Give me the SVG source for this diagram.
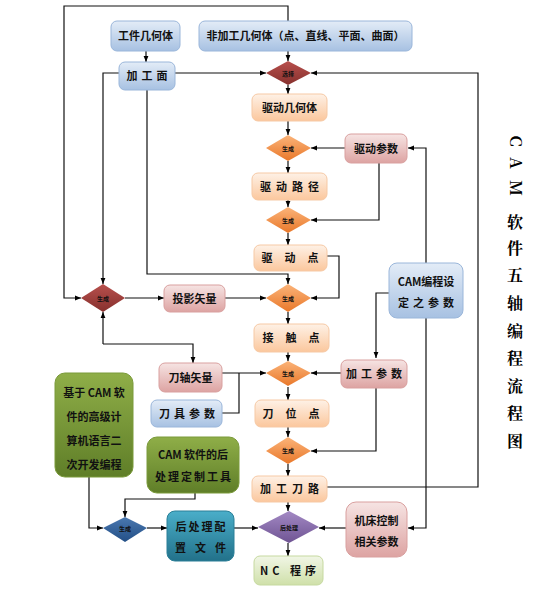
<svg xmlns="http://www.w3.org/2000/svg" width="556" height="592" viewBox="0 0 556 592">
<defs>
<linearGradient id="gBlue" x1="0" y1="0" x2="0" y2="1"><stop offset="0" stop-color="#e3ecf7"/><stop offset="1" stop-color="#a7c1e2"/></linearGradient>
<linearGradient id="gOrange" x1="0" y1="0" x2="0" y2="1"><stop offset="0" stop-color="#fef1e6"/><stop offset="1" stop-color="#fbc79d"/></linearGradient>
<linearGradient id="gPink" x1="0" y1="0" x2="0" y2="1"><stop offset="0" stop-color="#f6e4e3"/><stop offset="1" stop-color="#dda3a2"/></linearGradient>
<linearGradient id="gGreen" x1="0" y1="0" x2="0" y2="1"><stop offset="0" stop-color="#8fae48"/><stop offset="1" stop-color="#5f7e28"/></linearGradient>
<linearGradient id="gTeal" x1="0" y1="0" x2="0" y2="1"><stop offset="0" stop-color="#4aaec9"/><stop offset="1" stop-color="#22718a"/></linearGradient>
<linearGradient id="gLGreen" x1="0" y1="0" x2="0" y2="1"><stop offset="0" stop-color="#f1f6e6"/><stop offset="1" stop-color="#cfe0a9"/></linearGradient>
<linearGradient id="gDO" x1="0" y1="0" x2="0" y2="1"><stop offset="0" stop-color="#fbb47a"/><stop offset="1" stop-color="#e9782a"/></linearGradient>
<linearGradient id="gDR" x1="0" y1="0" x2="0" y2="1"><stop offset="0" stop-color="#b8504d"/><stop offset="1" stop-color="#86302d"/></linearGradient>
<linearGradient id="gDB" x1="0" y1="0" x2="0" y2="1"><stop offset="0" stop-color="#4a78b0"/><stop offset="1" stop-color="#234f86"/></linearGradient>
<linearGradient id="gDP" x1="0" y1="0" x2="0" y2="1"><stop offset="0" stop-color="#a389c4"/><stop offset="1" stop-color="#6f5493"/></linearGradient>
<marker id="ar" viewBox="0 0 10 10" refX="10" refY="5" markerWidth="6" markerHeight="6" orient="auto-start-reverse" markerUnits="userSpaceOnUse"><path d="M0,1 L10,5 L0,9 z" fill="#000"/></marker>
</defs>
<style>
.bl{fill:url(#gBlue);stroke:#9ab6da;stroke-width:1}
.or{fill:url(#gOrange);stroke:#f6c9a5;stroke-width:1}
.pk{fill:url(#gPink);stroke:#d9a09f;stroke-width:1}
.gr{fill:url(#gGreen);stroke:#7a9a3a;stroke-width:1}
.te{fill:url(#gTeal);stroke:#2a7f97;stroke-width:1}
.lg{fill:url(#gLGreen);stroke:#c6d9a0;stroke-width:1}
.t{font-family:"Noto Sans CJK SC","Liberation Sans",sans-serif;font-weight:bold;font-size:11px;fill:#111;text-anchor:middle}
.d{font-family:"Noto Sans CJK SC",sans-serif;font-weight:bold;font-size:6px;fill:#111;text-anchor:middle}
.ttl{font-family:"Noto Serif CJK SC","Noto Sans CJK SC",serif;font-weight:bold;font-size:16px;fill:#000;text-anchor:middle}
.c{fill:none;stroke:#111;stroke-width:1.2}
.a{marker-end:url(#ar)}
</style>

<g id="connectors">
<path class="c a" d="M288,21 V6 H64 V298 H81"/>
<path class="c a" d="M146,51 V62"/>
<path class="c a" d="M288,51 V61"/>
<path class="c a" d="M175,73 H266"/>
<path class="c a" d="M119,73 H103 V284"/>
<path class="c a" d="M147,90 V274 H288 V284"/>
<path class="c a" d="M327,487 H478 V73 H311"/>
<path class="c a" d="M288,85 V94"/>
<path class="c a" d="M288,121 V135"/>
<path class="c a" d="M345,148 H311"/>
<path class="c a" d="M426,263 V148 H408"/>
<path class="c a" d="M288,161 V173"/>
<path class="c a" d="M379,163 V220 H311"/>
<path class="c a" d="M288,200 V207"/>
<path class="c a" d="M288,233 V245"/>
<path class="c a" d="M327,256 H339 V298 H311"/>
<path class="c a" d="M125,298 H164"/>
<path class="c a" d="M225,298 H266"/>
<path class="c a" d="M103,344 V312"/>
<path class="c a" d="M103,344 H193 V363"/>
<path class="c a" d="M288,312 V324"/>
<path class="c a" d="M288,352 V361"/>
<path class="c a" d="M222,373 H266"/>
<path class="c" d="M222,413 H239 V373"/>
<path class="c a" d="M341,373 H311"/>
<path class="c a" d="M389,293 H376 V358"/>
<path class="c a" d="M288,387 V400"/>
<path class="c a" d="M376,388 V451 H311"/>
<path class="c a" d="M288,427 V437"/>
<path class="c a" d="M288,464 V476"/>
<path class="c a" d="M288,502 V511"/>
<path class="c a" d="M346,528 H319"/>
<path class="c a" d="M426,318 V528 H408"/>
<path class="c a" d="M234,528 H258"/>
<path class="c a" d="M147,528 H167"/>
<path class="c a" d="M89,477 V528 H103"/>
<path class="c a" d="M195,493 V499 H125 V517"/>
<path class="c a" d="M288,543 V556"/>
</g>

<g id="n-gongjian"><rect class="bl" x="111" y="21" width="69" height="30" rx="6"/><text class="t" x="145.5" y="40">工件几何体</text></g>
<g id="n-feijiagong"><rect class="bl" x="199" y="21" width="213" height="30" rx="6"/><text class="t" x="305.5" y="40">非加工几何体（点、直线、平面、曲面）</text></g>
<g id="n-jiagongmian"><rect class="bl" x="119" y="62" width="56" height="28" rx="6"/><text class="t" x="149" y="80" letter-spacing="4">加工面</text></g>
<g id="n-xuanze"><polygon points="288,61 311,73 288,85 266,73" fill="url(#gDR)"/><text class="d" x="288" y="75.5">选择</text></g>
<g id="n-qudongjihe"><rect class="or" x="252" y="94" width="75" height="27" rx="6"/><text class="t" x="289.5" y="111.5">驱动几何体</text></g>
<g id="n-sc1"><polygon points="288,135 311,148 288,161 266,148" fill="url(#gDO)"/><text class="d" x="288" y="150.5">生成</text></g>
<g id="n-qudongcanshu"><rect class="pk" x="345" y="134" width="62" height="29" rx="6"/><text class="t" x="376" y="152.5">驱动参数</text></g>
<g id="n-qudonglujing"><rect class="or" x="252" y="173" width="75" height="27" rx="6"/><text class="t" x="292" y="190.5" letter-spacing="5">驱动路径</text></g>
<g id="n-sc2"><polygon points="288,207 311,220 288,233 266,220" fill="url(#gDO)"/><text class="d" x="288" y="222.5">生成</text></g>
<g id="n-qudongdian"><rect class="or" x="254" y="245" width="73" height="26" rx="6"/><text class="t" x="296" y="262" letter-spacing="12">驱动点</text></g>
<g id="n-sc3"><polygon points="288,284 311,298 288,312 266,298" fill="url(#gDO)"/><text class="d" x="288" y="300.5">生成</text></g>
<g id="n-sc-left"><polygon points="103,284 125,298 103,312 81,298" fill="url(#gDR)"/><text class="d" x="103" y="300.5">生成</text></g>
<g id="n-touying"><rect class="pk" x="164" y="285" width="61" height="27" rx="6"/><text class="t" x="194.5" y="302.5">投影矢量</text></g>
<g id="n-cam"><rect class="bl" x="389" y="263" width="74" height="55" rx="8"/><text class="t" x="426" y="286" font-size="10.5">CAM编程设</text><text class="t" x="428" y="307" letter-spacing="4">定之参数</text></g>
<g id="n-jiechudian"><rect class="or" x="254" y="324" width="75" height="28" rx="6"/><text class="t" x="297" y="342" letter-spacing="12">接触点</text></g>
<g id="n-sc4"><polygon points="288,361 311,373 288,386 266,373" fill="url(#gDO)"/><text class="d" x="288" y="375.5">生成</text></g>
<g id="n-daozhou"><rect class="pk" x="159" y="363" width="63" height="29" rx="6"/><text class="t" x="190.5" y="381.5">刀轴矢量</text></g>
<g id="n-jiagongcanshu"><rect class="pk" x="341" y="360" width="66" height="28" rx="6"/><text class="t" x="376" y="378" letter-spacing="4">加工参数</text></g>
<g id="n-daoju"><rect class="bl" x="151" y="400" width="71" height="27" rx="6"/><text class="t" x="189" y="417.5" letter-spacing="4">刀具参数</text></g>
<g id="n-daoweidian"><rect class="or" x="255" y="400" width="74" height="27" rx="6"/><text class="t" x="297" y="417.5" letter-spacing="12">刀位点</text></g>
<g id="n-sc5"><polygon points="288,437 311,451 288,464 266,451" fill="url(#gDO)"/><text class="d" x="288" y="453">生成</text></g>
<g id="n-green1"><rect class="gr" x="55" y="373" width="78" height="104" rx="10"/>
<text class="t" x="94" y="397">基于 CAM 软</text><text class="t" x="94" y="421">件的高级计</text><text class="t" x="94" y="445">算机语言二</text><text class="t" x="94" y="469">次开发编程</text></g>
<g id="n-green2"><rect class="gr" x="147" y="437" width="92" height="56" rx="10"/>
<text class="t" x="193" y="459">CAM 软件的后</text><text class="t" x="194" y="481" letter-spacing="2">处理定制工具</text></g>
<g id="n-jiagongdaolu"><rect class="or" x="252" y="476" width="75" height="26" rx="6"/><text class="t" x="292" y="493" letter-spacing="5">加工刀路</text></g>
<g id="n-sc-blue"><polygon points="125,517 147,528 125,542 103,528" fill="url(#gDB)"/><text class="d" x="125" y="530.5">生成</text></g>
<g id="n-houchuli-file"><rect class="te" x="167" y="511" width="67" height="50" rx="8"/><text class="t" x="201.5" y="531" letter-spacing="2">后处理配</text><text class="t" x="205" y="552" letter-spacing="9">置文件</text></g>
<g id="n-houchuli"><polygon points="289,511 319,527 289,543 258,527" fill="url(#gDP)"/><text class="d" x="289" y="529.5">后处理</text></g>
<g id="n-jichuang"><rect class="pk" x="346" y="502" width="61" height="55" rx="10"/><text class="t" x="376.5" y="525">机床控制</text><text class="t" x="376.5" y="546">相关参数</text></g>
<g id="n-nc"><rect class="lg" x="254" y="556" width="69" height="29" rx="6"/><text class="t" x="290" y="574.5" letter-spacing="4">NC 程序</text></g>

<g id="title">
<text class="ttl" transform="translate(515,141) rotate(90)" y="5" font-size="13" font-family="Liberation Sans,sans-serif">C</text>
<text class="ttl" transform="translate(515,163) rotate(90)" y="5" font-size="13" font-family="Liberation Sans,sans-serif">A</text>
<text class="ttl" transform="translate(515,188) rotate(90)" y="5" font-size="13" font-family="Liberation Sans,sans-serif">M</text>
<text class="ttl" x="515" y="228">软</text>
<text class="ttl" x="515" y="254">件</text>
<text class="ttl" x="515" y="281">五</text>
<text class="ttl" x="515" y="309">轴</text>
<text class="ttl" x="515" y="337">编</text>
<text class="ttl" x="515" y="364">程</text>
<text class="ttl" x="515" y="392">流</text>
<text class="ttl" x="515" y="419">程</text>
<text class="ttl" x="515" y="447">图</text>
</g>
</svg>
